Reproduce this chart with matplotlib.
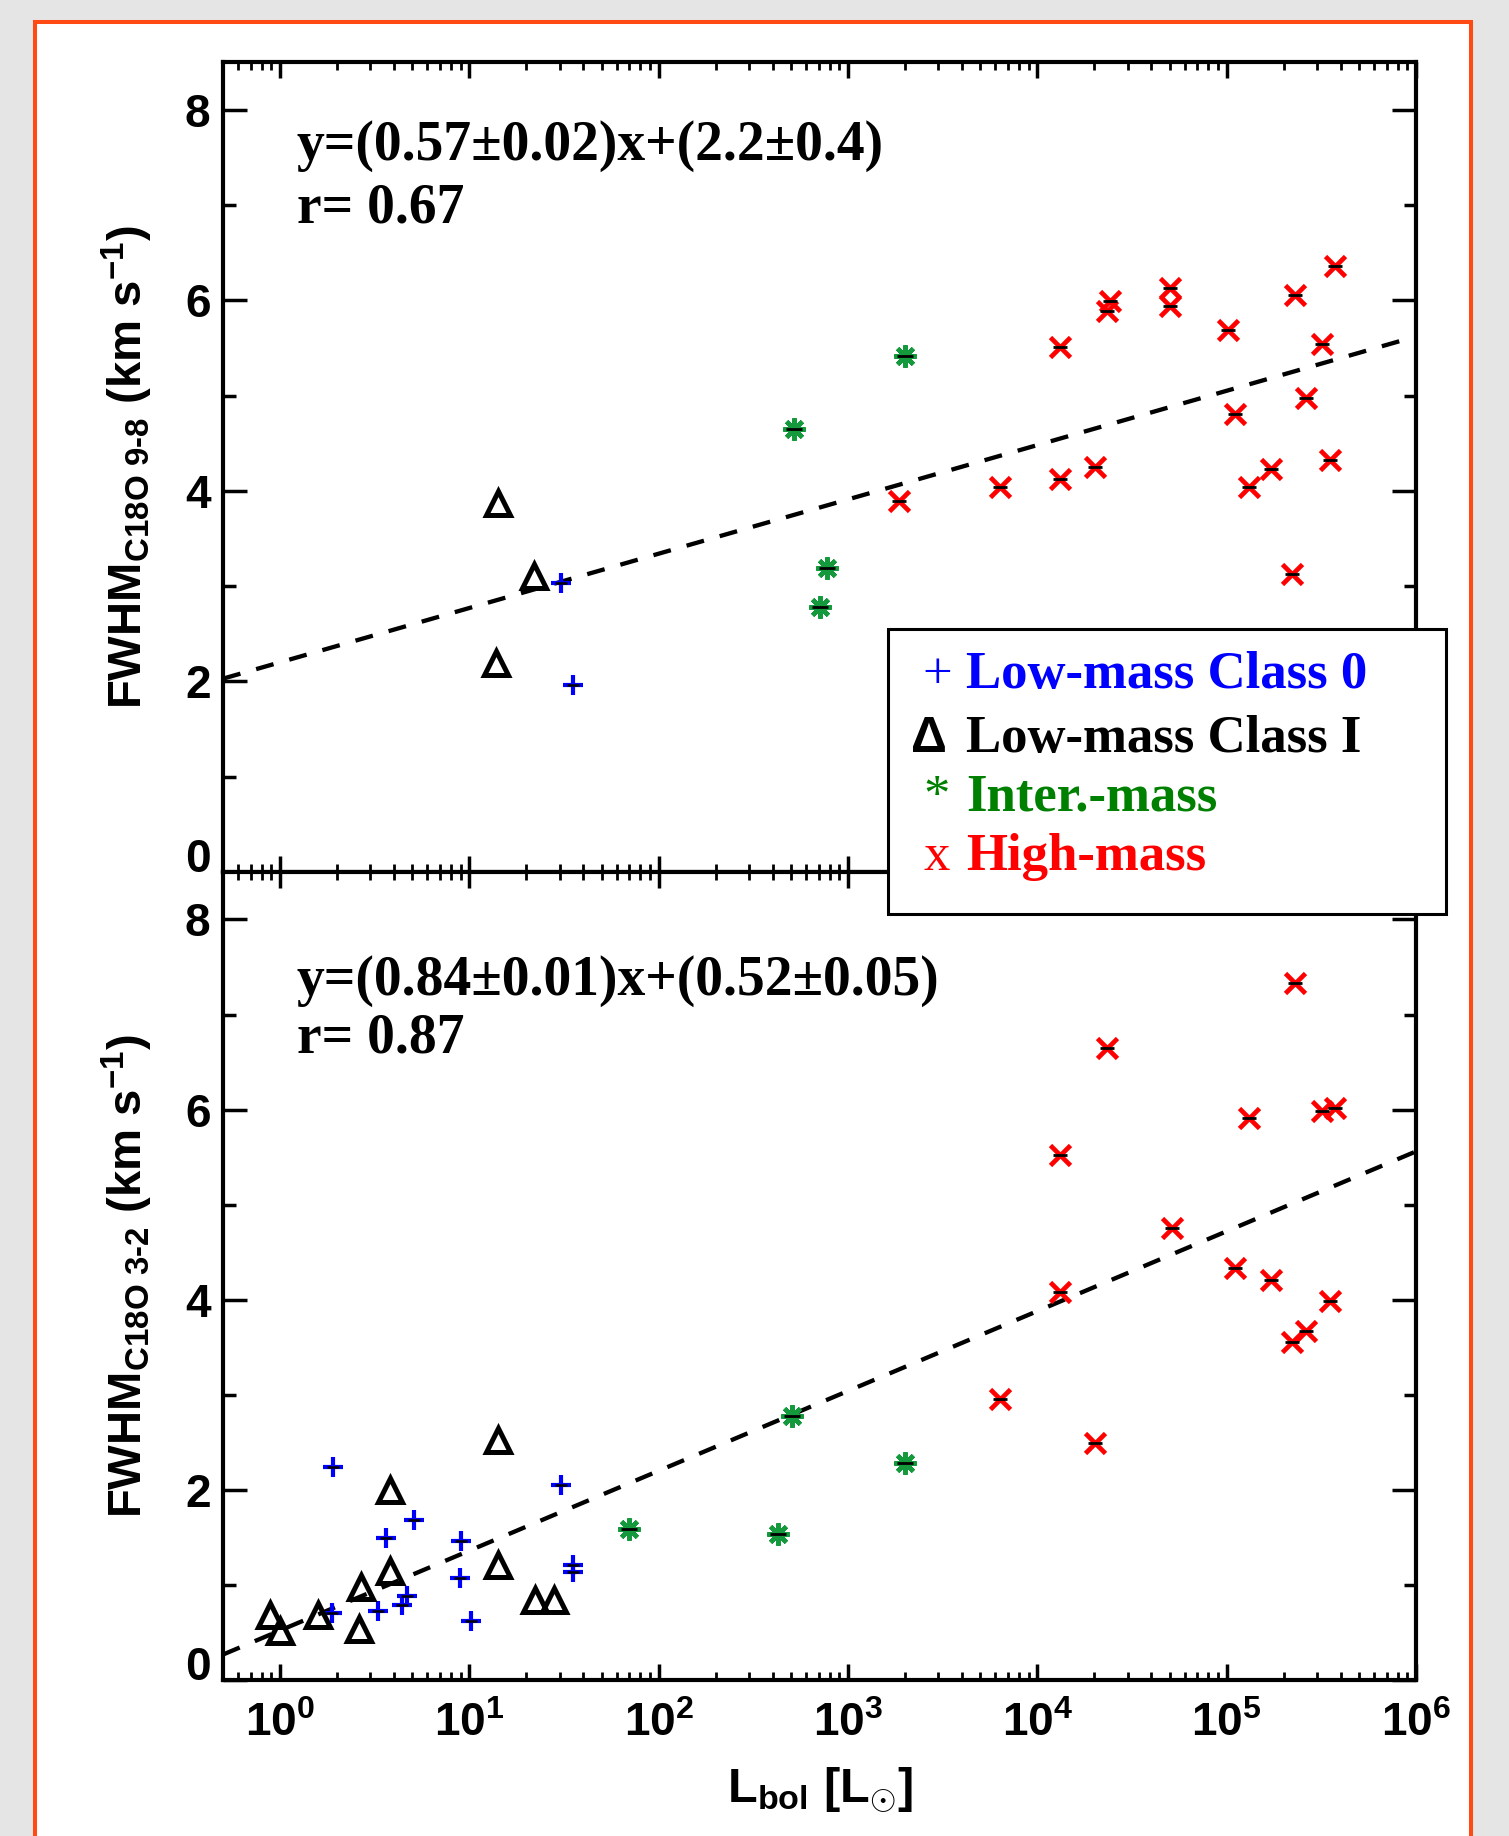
import numpy as np
import matplotlib
matplotlib.use('Agg')
import matplotlib.pyplot as plt
from matplotlib.patches import Rectangle
from matplotlib.ticker import FixedLocator, LogLocator, NullFormatter

# fonts: bold sans for axes, serif bold for annotations
plt.rcParams['font.family'] = ['Liberation Sans', 'DejaVu Sans']
plt.rcParams['font.weight'] = 'bold'
plt.rcParams['axes.labelweight'] = 'bold'
plt.rcParams['mathtext.fontset'] = 'custom'
plt.rcParams['mathtext.rm'] = 'Liberation Sans:bold'
plt.rcParams['mathtext.it'] = 'Liberation Sans:bold'
plt.rcParams['mathtext.bf'] = 'Liberation Sans:bold'
plt.rcParams['mathtext.default'] = 'rm'

# ---- data: C18O 9-8 (top panel) ----
lm0_L_98 = [30.3, 35.3]
lm0_fwhm_98 = [3.03, 1.96]
lm1_L_98 = [14.1, 21.9, 13.8]
lm1_fwhm_98 = [3.87, 3.11, 2.19]
im_L_98 = [520, 2000, 770, 715]
im_fwhm_98 = [4.65, 5.42, 3.19, 2.78]
hm_L_98 = [1850, 6380, 13200, 13200, 20200, 23300, 24200, 50000, 50000, 101000,
           110000, 131000, 171000, 222000, 230000, 261000, 319000, 352000, 371000]
hm_fwhm_98 = [3.89, 4.04, 5.51, 4.12, 4.25, 5.89, 5.99, 6.13, 5.94, 5.69,
              4.81, 4.04, 4.23, 3.13, 6.06, 4.97, 5.54, 4.32, 6.36]

# ---- data: C18O 3-2 (bottom panel) ----
lm0_L_32 = [1.90, 1.88, 3.29, 3.61, 5.08, 4.39, 4.69, 9.07, 8.97, 10.2, 30.3, 35.3, 35.3]
lm0_fwhm_32 = [2.24, 0.70, 0.73, 1.49, 1.68, 0.79, 0.88, 1.46, 1.07, 0.62, 2.05, 1.21, 1.14]
lm1_L_32 = [0.89, 1.0, 1.58, 2.62, 2.68, 3.81, 3.81, 14.1, 14.1, 22.3, 28.0]
lm1_fwhm_32 = [0.68, 0.52, 0.68, 0.54, 0.98, 2.00, 1.15, 2.52, 1.21, 0.84, 0.84]
im_L_32 = [69.5, 427, 508, 2000]
im_fwhm_32 = [1.59, 1.53, 2.78, 2.28]
hm_L_32 = [230000, 23300, 13200, 131000, 319000, 374000, 51200, 13200, 110000,
           171000, 352000, 261000, 222000, 6380, 20200]
hm_fwhm_32 = [7.33, 6.65, 5.52, 5.91, 5.99, 6.02, 4.75, 4.08, 4.33,
              4.21, 3.99, 3.67, 3.56, 2.96, 2.49]

# fits  y = a*log10(L) + b
fit_98 = (0.57, 2.2)
fit_32 = (0.84, 0.52)
fit_text_98 = ['y=(0.57\u00b10.02)x+(2.2\u00b10.4)', 'r= 0.67']
fit_text_32 = ['y=(0.84\u00b10.01)x+(0.52\u00b10.05)', 'r= 0.87']

ylabel_98 = r'FWHM$_{\mathregular{C18O\ 9\text{-}8}}$ (km s$^{\mathregular{-1}}$)'
ylabel_32 = r'FWHM$_{\mathregular{C18O\ 3\text{-}2}}$ (km s$^{\mathregular{-1}}$)'
xlabel = r'L$_{\mathregular{bol}}$ [L$_{\odot}$]'

xticks = [1e0, 1e1, 1e2, 1e3, 1e4, 1e5, 1e6]
xtick_labels = [r'$10^{0}$', r'$10^{1}$', r'$10^{2}$', r'$10^{3}$',
                r'$10^{4}$', r'$10^{5}$', r'$10^{6}$']
yticks = [0, 2, 4, 6, 8]
yticks_minor = [1, 3, 5, 7]

legend_labels = ['Low-mass Class 0', 'Low-mass Class I', 'Inter.-mass', 'High-mass']
legend_symbols = ['+', '\u0394', '*', 'x']
legend_colors = ['#0000ff', 'black', '#008000', '#ff0000']

blue = '#0000ff'
green = '#149a3c'
red = '#ff0000'

fig = plt.figure(figsize=(15.09, 18.36), dpi=100)
fig.patch.set_facecolor('#e5e5e5')
fig.add_artist(Rectangle((0.0232, -0.05), 0.9516, 1.038, transform=fig.transFigure,
                         facecolor='white', edgecolor='#ff4a14', lw=2.9, zorder=-10))

ax_top = fig.add_axes([0.1478, 0.5251, 0.7906, 0.4411])
ax_bot = fig.add_axes([0.1478, 0.0850, 0.7906, 0.4401])


def style_axis(ax, show_xlabels):
    ax.set_xscale('log')
    ax.set_xlim(0.5, 1e6)
    ax.set_ylim(0, 8.5)
    for sp in ax.spines.values():
        sp.set_linewidth(3)
    ax.xaxis.set_major_locator(FixedLocator(xticks))
    ax.xaxis.set_minor_locator(LogLocator(base=10, subs=np.arange(2, 10), numticks=20))
    ax.xaxis.set_minor_formatter(NullFormatter())
    ax.set_yticks(yticks)
    ax.yaxis.set_minor_locator(FixedLocator(yticks_minor))
    if show_xlabels:
        ax.set_xticklabels(xtick_labels)
    else:
        ax.set_xticklabels([])
    ax.tick_params(axis='y', which='major', direction='in', length=17, width=2.5,
                   labelsize=33, pad=9, left=True, right=True)
    ax.tick_params(axis='y', which='minor', direction='in', length=9, width=2.5,
                   left=True, right=True)
    ax.tick_params(axis='x', which='major', direction='in', length=11.5, width=2.5,
                   labelsize=33, pad=16, top=True, bottom=True)
    ax.tick_params(axis='x', which='minor', direction='in', length=5.5, width=2,
                   top=True, bottom=True)
    # the "0" label sits on the bottom spine
    ax.yaxis.get_major_ticks()[0].label1.set_verticalalignment('baseline')


def draw_panel(ax, lm0, lm1, im, hm, fit, fit_text, ylab, ty):
    a, b = fit
    Lgrid = np.logspace(np.log10(0.5), 6, 200)
    ax.plot(Lgrid, a * np.log10(Lgrid) + b, color='black', lw=3.1, dashes=(4.2, 3.8), zorder=2)

    ax.plot(lm0[0], lm0[1], ls='none', marker='+', ms=15, mew=3, color=blue, zorder=3)
    ax.plot(lm0[0], lm0[1], ls='none', marker='_', ms=9, mew=1.8, color='black', zorder=4)
    ax.plot(lm1[0], lm1[1], ls='none', marker='^', ms=17, mfc='none', mec='black',
            mew=3.6, zorder=3)
    ax.plot(im[0], im[1], ls='none', marker=(8, 2, 0), ms=16, mew=3.2, color=green, zorder=3)
    ax.plot(im[0], im[1], ls='none', marker='_', ms=12, mew=2, color='black', zorder=4)
    ax.plot(hm[0], hm[1], ls='none', marker='x', ms=14, mew=3.4, color=red, zorder=3)
    ax.plot(hm[0], hm[1], ls='none', marker='_', ms=10, mew=2, color='black', zorder=4)

    for txt, yy in zip(fit_text, ty):
        ax.text(0.062, yy, txt, transform=ax.transAxes, family='Liberation Serif',
                weight='bold', size=40, ha='left', va='baseline')

    ax.set_ylabel(ylab, fontsize=34, va='baseline')
    ax.yaxis.set_label_coords(-0.068, 0.5)


style_axis(ax_top, False)
style_axis(ax_bot, True)

draw_panel(ax_top, (lm0_L_98, lm0_fwhm_98), (lm1_L_98, lm1_fwhm_98),
           (im_L_98, im_fwhm_98), (hm_L_98, hm_fwhm_98), fit_98, fit_text_98,
           ylabel_98, [0.879, 0.802])
draw_panel(ax_bot, (lm0_L_32, lm0_fwhm_32), (lm1_L_32, lm1_fwhm_32),
           (im_L_32, im_fwhm_32), (hm_L_32, hm_fwhm_32), fit_32, fit_text_32,
           ylabel_32, [0.848, 0.776])

ax_bot.set_xlabel(xlabel, fontsize=35, va='baseline')
ax_bot.xaxis.set_label_coords(0.5, -0.151)

# legend box drawn at figure level (it spans both panels)
fig.add_artist(Rectangle((0.5885, 0.5022), 0.3695, 0.1552, transform=fig.transFigure,
                         facecolor='white', edgecolor='black', lw=2.2, zorder=5))
legend_rows = [0.6253, 0.5904, 0.5583, 0.5261]
for sym, lab, col, yy in zip(legend_symbols, legend_labels, legend_colors, legend_rows):
    if sym == '\u0394':
        fig.text(0.6157, yy, sym, color=col, family='Liberation Sans', weight='bold',
                 size=36, ha='center', va='baseline', zorder=6)
    else:
        fig.text(0.6210, yy, sym, color=col, family='Liberation Serif', weight='normal',
                 size=38, ha='center', va='baseline', zorder=6)
    fig.text(0.6400, yy, lab, color=col, family='Liberation Serif', weight='bold',
             size=38, ha='left', va='baseline', zorder=6)

fig.savefig('out.png', dpi=100, facecolor=fig.get_facecolor())
